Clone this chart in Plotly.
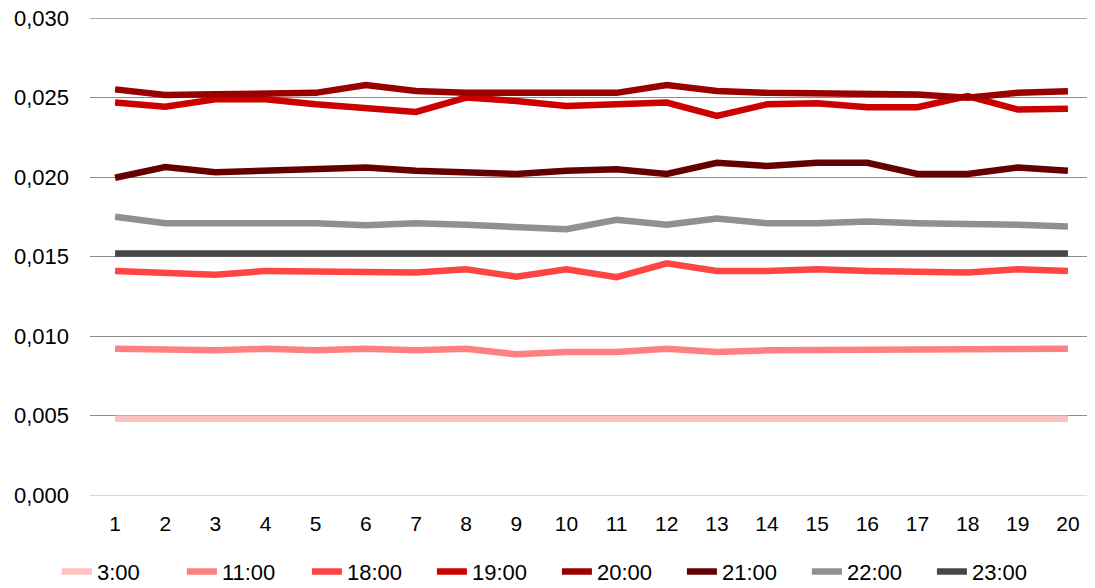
import plotly.graph_objects as go

days = list(range(1, 21))

s_0300 = [0.0048]*8 + [0.0047, 0.0047] + [0.0048]*5 + [0.0047, 0.0048, 0.0047, 0.0048, 0.0048]
s_1100 = [0.0092, 0.0091, 0.0091, 0.0092, 0.0091, 0.0092, 0.0091, 0.0092, 0.00885, 0.0090,
          0.0090, 0.0092, 0.0090, 0.0091, 0.0091, 0.0091, 0.0092, 0.0091, 0.0091, 0.0092]
s_1800 = [0.0141, 0.0140, 0.01385, 0.0141, 0.0141, 0.0140, 0.0140, 0.0142, 0.01374, 0.0142,
          0.0137, 0.01458, 0.0141, 0.0141, 0.0142, 0.0141, 0.0141, 0.0140, 0.0142, 0.0141]
s_1900 = [0.02469, 0.02443, 0.0249, 0.0249, 0.02458, 0.0243, 0.0241, 0.0250, 0.02479, 0.02447,
          0.02462, 0.02469, 0.02385, 0.02458, 0.02464, 0.0244, 0.0244, 0.0251, 0.02425, 0.0243]
s_2000 = [0.02552, 0.02517, 0.02521, 0.0253, 0.0253, 0.0258, 0.02542, 0.0253, 0.0253, 0.0253,
          0.0253, 0.0258, 0.02542, 0.0253, 0.0253, 0.0252, 0.0252, 0.0250, 0.0253, 0.0254]
s_2100 = [0.01996, 0.02063, 0.0203, 0.0204, 0.0204, 0.0206, 0.0204, 0.0203, 0.0202, 0.0204,
          0.0205, 0.0202, 0.0209, 0.0207, 0.0209, 0.0209, 0.0202, 0.0202, 0.0206, 0.0204]
s_2200 = [0.0175, 0.0171, 0.0171, 0.0171, 0.0171, 0.01697, 0.0171, 0.0170, 0.01687, 0.01672,
          0.01731, 0.0170, 0.01739, 0.0171, 0.0171, 0.0172, 0.0171, 0.0171, 0.0170, 0.0169]
s_2300 = [0.0152, 0.0152, 0.0153, 0.0152, 0.0152, 0.0153, 0.0152, 0.0152, 0.0152, 0.0152,
          0.0152, 0.0153, 0.0152, 0.0153, 0.0152, 0.0152, 0.0152, 0.0152, 0.0153, 0.0152]

series_names = ["3:00", "11:00", "18:00", "19:00", "20:00", "21:00", "22:00", "23:00"]
series_values = [s_0300, s_1100, s_1800, s_1900, s_2000, s_2100, s_2200, s_2300]
colors = ["#ffc0c0", "#ff8080", "#ff4444", "#cc0000", "#990000", "#660000", "#948f8c", "#4a4646"]

y_ticks = [0.0, 0.005, 0.010, 0.015, 0.020, 0.025, 0.030]

fig = go.Figure()
for name, vals, col in zip(series_names, series_values, colors):
    fig.add_trace(go.Scatter(x=days, y=vals, name=name, mode="lines",
                             line=dict(color=col, width=6.5)))

# top grid line (plotly drops the one sitting on the range edge)
fig.add_shape(type="line", xref="paper", yref="y", x0=0, x1=1,
              y0=y_ticks[-1], y1=y_ticks[-1], line=dict(color="#8c8c8c", width=1.3),
              layer="below")

fig.update_layout(
    width=1087, height=580,
    margin=dict(l=82, r=2, t=10, b=93, autoexpand=False),
    plot_bgcolor="white", paper_bgcolor="white",
    separators=",.",
    font=dict(family="Liberation Sans, Arial, sans-serif", size=22, color="#000000"),
    showlegend=True,
    legend=dict(orientation="h", xref="container", x=0.045, xanchor="left",
                yref="container", y=0.028, yanchor="middle",
                font=dict(family="Liberation Sans Narrow, Arial Narrow, Liberation Sans", size=22),
                entrywidth=80, itemwidth=30, tracegroupgap=0),
    xaxis=dict(range=[0.5, 20.5], tickmode="array", tickvals=days,
               ticktext=[str(d) for d in days], showgrid=False,
               showline=True, linecolor="#d9d9d9", linewidth=1.3,
               ticks="", tickfont=dict(size=21), zeroline=False,
               ticklabelstandoff=10),
    yaxis=dict(range=[0, 0.03001], tickmode="array", tickvals=y_ticks,
               tickformat=".3f", showgrid=True, gridcolor="#8c8c8c", gridwidth=1.3,
               zeroline=False, showline=False, ticks="", ticklabelstandoff=20,
               ticklabeloverflow="allow", tickfont=dict(size=22)),
)

fig.write_html("out.html")
